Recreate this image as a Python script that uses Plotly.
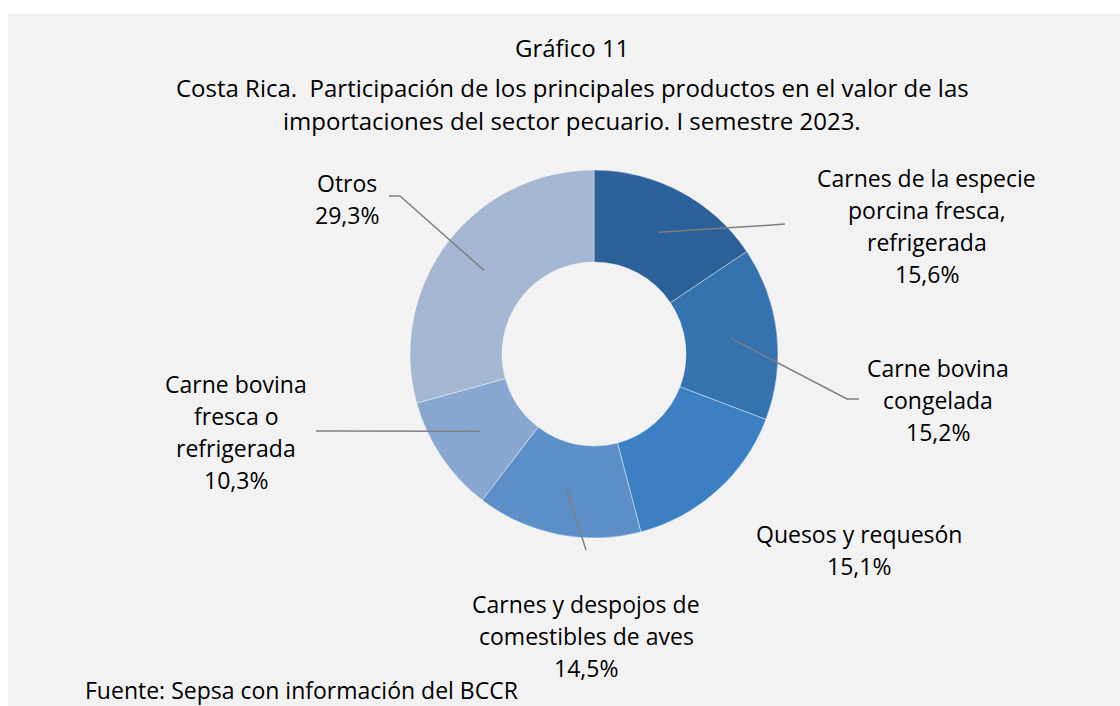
import math
import plotly.graph_objects as go

# datos del gráfico
productos = [
    "Carnes de la especie porcina fresca, refrigerada",
    "Carne bovina congelada",
    "Quesos y requesón",
    "Carnes y despojos de comestibles de aves",
    "Carne bovina fresca o refrigerada",
    "Otros",
]
participacion = [15.6, 15.2, 15.1, 14.5, 10.3, 29.3]
etiquetas = [
    ["Carnes de la especie", "porcina fresca,", "refrigerada"],
    ["Carne bovina", "congelada"],
    ["Quesos y requesón"],
    ["Carnes y despojos de", "comestibles de aves"],
    ["Carne bovina", "fresca o", "refrigerada"],
    ["Otros"],
]
colores = ["#2c6299", "#3472b0", "#3c80c3", "#5c8fc8", "#87a6d0", "#a5b6d2"]

titulo = [
    "Gráfico 11",
    "Costa Rica.\u00a0 Participación de los principales productos en el valor de las",
    "importaciones del sector pecuario. I semestre 2023.",
]
fuente = "Fuente: Sepsa con información del BCCR"

# geometria (pixeles)
W, H = 1120, 706
CX, CY, R = 594, 354, 184
HOLE = 0.5
FONT = "Open Sans"
FS = 23
LH = 32

# posicion de etiquetas: centro x, y de la primera linea
pos_etq = [(927, 178), (938, 368), (859, 534), (586, 604), (236, 384), (347, 183)]
# lineas guia: puntos despues del punto en el anillo
guias = [
    [(772, 225), (785, 224)],
    [(847, 399), (859, 399)],
    None,
    [(586, 550)],
    [(316, 431)],
    [(400, 196), (389, 196)],
]


def px(x, y):
    return x / W, 1 - y / H


fig = go.Figure(go.Pie(
    labels=productos,
    values=participacion,
    hole=HOLE,
    sort=False,
    direction="clockwise",
    rotation=0,
    textinfo="none",
    hoverinfo="skip",
    marker=dict(colors=colores, line=dict(color="rgba(255,255,255,0.5)", width=0.8)),
    domain=dict(x=[(CX - R) / W, (CX + R) / W], y=[1 - (CY + R) / H, 1 - (CY - R) / H]),
    showlegend=False,
))

anns = []
shapes = [
    dict(type="rect", xref="paper", yref="paper", x0=0, x1=1, y0=1 - 14 / H, y1=1,
         fillcolor="white", line_width=0, layer="below"),
    dict(type="rect", xref="paper", yref="paper", x0=0, x1=8 / W, y0=0, y1=1,
         fillcolor="white", line_width=0, layer="below"),
]

total = sum(participacion)
acum = 0
for v, lineas, (lx, ly), g in zip(participacion, etiquetas, pos_etq, guias):
    ang = 2 * math.pi * (acum + v / 2) / total
    acum += v
    rm = R * (1 + HOLE) / 2
    sx, sy = CX + rm * math.sin(ang), CY - rm * math.cos(ang)
    if g:
        pts = [(sx, sy)] + g
        path = "M " + " L ".join(f"{px(a, b)[0]:.5f},{px(a, b)[1]:.5f}" for a, b in pts)
        shapes.append(dict(type="path", xref="paper", yref="paper", path=path,
                           line=dict(color="#7f7f7f", width=1.5)))
    txt = lineas + [f"{v:.1f}%".replace(".", ",")]
    for i, t in enumerate(txt):
        x, y = px(lx, ly + i * LH)
        anns.append(dict(text=t, x=x, y=y, xref="paper", yref="paper", showarrow=False,
                         xanchor="center", yanchor="middle",
                         font=dict(family=FONT, size=FS, color="black")))

for i, t in enumerate(titulo):
    x, y = px(572, [47, 88, 121][i])
    anns.append(dict(text=t, x=x, y=y, xref="paper", yref="paper", showarrow=False,
                     xanchor="center", yanchor="middle",
                     font=dict(family=FONT, size=24, color="black")))

x, y = px(83, 690)
anns.append(dict(text=fuente, x=x, y=y, xref="paper", yref="paper", showarrow=False,
                 xanchor="left", yanchor="middle",
                 font=dict(family=FONT, size=FS, color="black")))

fig.update_layout(
    width=W, height=H,
    margin=dict(l=0, r=0, t=0, b=0),
    paper_bgcolor="#f2f2f2",
    plot_bgcolor="#f2f2f2",
    annotations=anns,
    shapes=shapes,
)
fig.write_html("out.html", config={"displayModeBar": False},
               post_script="document.body.style.margin='0';")
